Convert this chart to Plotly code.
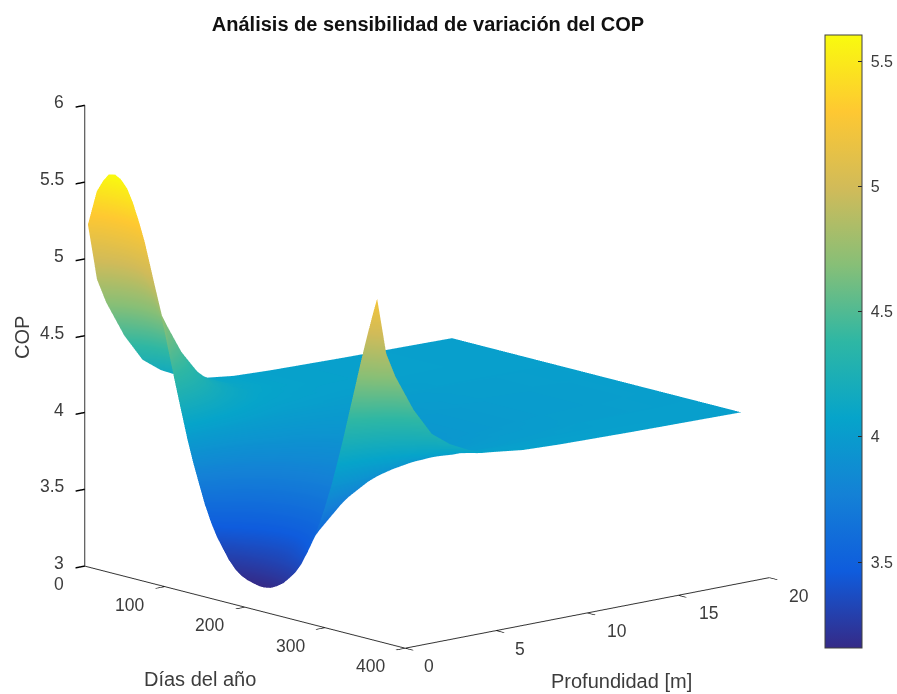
import plotly.graph_objects as go

days = [4, 15, 23, 30, 38, 45, 53, 60, 68, 75, 83, 90, 98, 105, 113, 120, 128, 135, 143, 150, 158, 165, 173, 180, 188,
        195, 203, 210, 218, 225, 233, 240, 248, 255, 263, 270, 278, 285, 293, 300, 308, 315, 323, 330, 338, 345, 353, 360, 365]
depths = [0, 0.5, 1, 1.5, 2, 3, 4, 5, 6, 8, 10, 14, 20]
cop_0 = [5.23,5.46,5.54,5.59,5.60,5.58,5.53,5.45,5.33,5.21,5.04,4.89,4.70,4.53,4.34,4.18,4.00,3.86,3.72,3.60,3.49,3.41,3.34,3.28,3.23,3.20,3.18,3.17,3.16,3.16,3.17,3.19,3.22,3.26,3.31,3.37,3.46,3.55,3.67,3.79,3.94,4.09,4.27,4.44,4.63,4.80,4.98,5.13,5.23]
cop_05 = [4.86,5.02,5.07,5.10,5.11,5.10,5.06,5.01,4.93,4.85,4.74,4.63,4.50,4.38,4.25,4.13,4.00,3.90,3.79,3.70,3.61,3.54,3.47,3.42,3.38,3.35,3.33,3.31,3.31,3.31,3.32,3.34,3.37,3.40,3.45,3.50,3.58,3.65,3.75,3.84,3.96,4.07,4.20,4.32,4.45,4.57,4.69,4.79,4.86]
cop_1 = [4.70,4.83,4.87,4.90,4.90,4.89,4.86,4.82,4.76,4.69,4.60,4.52,4.41,4.32,4.21,4.11,4.00,3.91,3.82,3.74,3.67,3.60,3.54,3.50,3.46,3.43,3.41,3.40,3.39,3.39,3.40,3.42,3.45,3.48,3.52,3.57,3.64,3.70,3.79,3.87,3.96,4.06,4.17,4.26,4.37,4.47,4.57,4.65,4.70]
cop_15 = [4.58,4.68,4.71,4.73,4.74,4.73,4.71,4.67,4.62,4.57,4.50,4.43,4.34,4.26,4.17,4.09,4.00,3.93,3.85,3.78,3.71,3.66,3.61,3.57,3.53,3.51,3.49,3.47,3.47,3.47,3.48,3.50,3.52,3.55,3.59,3.63,3.69,3.75,3.82,3.89,3.97,4.05,4.14,4.22,4.31,4.38,4.47,4.53,4.58]
cop_2 = [4.46,4.53,4.56,4.58,4.58,4.57,4.56,4.53,4.49,4.45,4.39,4.34,4.27,4.21,4.14,4.07,4.00,3.94,3.88,3.82,3.77,3.72,3.68,3.64,3.61,3.59,3.57,3.56,3.56,3.56,3.56,3.58,3.60,3.63,3.66,3.70,3.75,3.79,3.85,3.91,3.98,4.04,4.11,4.17,4.25,4.31,4.37,4.42,4.46]
cop_3 = [4.28,4.33,4.35,4.35,4.36,4.35,4.34,4.33,4.30,4.28,4.25,4.21,4.17,4.13,4.09,4.05,4.00,3.96,3.92,3.88,3.85,3.81,3.78,3.76,3.74,3.72,3.71,3.70,3.70,3.70,3.71,3.72,3.73,3.75,3.77,3.80,3.83,3.86,3.90,3.94,3.98,4.02,4.07,4.11,4.15,4.19,4.23,4.26,4.28]
cop_4 = [4.19,4.21,4.23,4.23,4.23,4.23,4.22,4.21,4.20,4.18,4.16,4.14,4.11,4.09,4.06,4.03,4.00,3.97,3.95,3.92,3.90,3.87,3.85,3.84,3.82,3.81,3.80,3.80,3.79,3.79,3.80,3.80,3.82,3.83,3.85,3.86,3.89,3.91,3.93,3.96,3.99,4.02,4.05,4.07,4.10,4.13,4.15,4.17,4.19]
cop_5 = [4.13,4.15,4.16,4.16,4.16,4.16,4.16,4.15,4.14,4.13,4.11,4.10,4.08,4.06,4.04,4.02,4.00,3.98,3.96,3.94,3.92,3.91,3.89,3.88,3.87,3.86,3.85,3.85,3.85,3.85,3.85,3.86,3.86,3.87,3.89,3.90,3.92,3.93,3.95,3.97,3.99,4.01,4.03,4.05,4.07,4.09,4.11,4.12,4.13]
cop_6 = [4.09,4.10,4.11,4.11,4.11,4.11,4.11,4.10,4.10,4.09,4.08,4.07,4.06,4.04,4.03,4.02,4.00,3.99,3.97,3.96,3.95,3.94,3.92,3.92,3.91,3.90,3.90,3.89,3.89,3.89,3.90,3.90,3.91,3.91,3.92,3.93,3.94,3.95,3.97,3.98,4.00,4.01,4.02,4.04,4.05,4.06,4.07,4.08,4.09]
cop_8 = [4.06,4.07,4.07,4.07,4.07,4.07,4.07,4.07,4.06,4.06,4.05,4.05,4.04,4.03,4.03,4.02,4.01,4.00,3.99,3.99,3.98,3.97,3.97,3.96,3.96,3.96,3.95,3.95,3.95,3.95,3.95,3.95,3.96,3.96,3.97,3.97,3.98,3.98,3.99,4.00,4.01,4.01,4.02,4.03,4.04,4.04,4.05,4.06,4.06]
cop_10 = [4.05,4.05,4.05,4.05,4.05,4.05,4.05,4.05,4.05,4.04,4.04,4.04,4.03,4.03,4.02,4.02,4.02,4.01,4.01,4.00,4.00,3.99,3.99,3.99,3.98,3.98,3.98,3.98,3.98,3.98,3.98,3.98,3.98,3.98,3.99,3.99,4.00,4.00,4.01,4.01,4.01,4.02,4.02,4.03,4.03,4.04,4.04,4.04,4.05]
cop_14 = [4.04,4.04,4.04,4.04,4.04,4.04,4.04,4.04,4.04,4.04,4.04,4.03,4.03,4.03,4.03,4.03,4.03,4.02,4.02,4.02,4.02,4.02,4.02,4.02,4.01,4.01,4.01,4.01,4.01,4.01,4.01,4.01,4.01,4.01,4.02,4.02,4.02,4.02,4.02,4.02,4.03,4.03,4.03,4.03,4.03,4.04,4.04,4.04,4.04]
cop_20 = [4.03,4.03,4.03,4.03,4.03,4.03,4.03,4.03,4.03,4.03,4.03,4.03,4.03,4.03,4.03,4.03,4.03,4.03,4.03,4.03,4.03,4.03,4.03,4.03,4.03,4.03,4.03,4.03,4.03,4.03,4.03,4.03,4.03,4.03,4.03,4.03,4.03,4.03,4.03,4.03,4.03,4.03,4.03,4.03,4.03,4.03,4.03,4.03,4.03]
cop = [cop_0, cop_05, cop_1, cop_15, cop_2, cop_3, cop_4, cop_5, cop_6, cop_8, cop_10, cop_14, cop_20]

x_ticks = [0, 100, 200, 300, 400]
y_ticks = [0, 5, 10, 15, 20]
z_ticks = [3, 3.5, 4, 4.5, 5, 5.5, 6]
bar_ticks = [3.5, 4, 4.5, 5, 5.5]
bar_labels = ["3.5", "4", "4.5", "5", "5.5"]

parula = [[0, "#352a87"], [0.125, "#0f5cdd"], [0.25, "#1481d6"], [0.375, "#06a4ca"], [0.5, "#2eb7a4"],
          [0.625, "#87bf77"], [0.75, "#d1bb59"], [0.875, "#fec832"], [1, "#f9fb0e"]]

FONT = "Liberation Sans, Arial, sans-serif"
TXT = "#3c3c3c"

fig = go.Figure(go.Surface(
    x=days, y=depths, z=cop, colorscale=parula, cmin=3.157, cmax=5.604,
    lighting=dict(ambient=1, diffuse=0, specular=0, roughness=1, fresnel=0),
    colorbar=dict(x=825/897, xanchor="left", xpad=0, ypad=0, y=1-35/694, yanchor="top",
                  lenmode="pixels", len=613, thicknessmode="pixels", thickness=37,
                  outlinecolor="#404040", outlinewidth=1, tickvals=bar_ticks,
                  ticktext=["\u00a0" + s for s in bar_labels], ticks="inside", ticklen=4,
                  tickcolor="#262626", tickfont=dict(family=FONT, size=16, color=TXT)),
))

def axis(vals, rng):
    return dict(range=rng, tickvals=vals, showticklabels=False, showgrid=False, showbackground=False,
                zeroline=False, showspikes=False, showline=True, linecolor="#333333", linewidth=2,
                ticks="outside", ticklen=12, tickcolor="#000000", tickwidth=3, title=dict(text=""))

def tick_label(x, y, z, text, **kw):
    return dict(x=x, y=y, z=z, text=str(text), showarrow=False, font=dict(family=FONT, size=17.5, color=TXT), **kw)

scene_labels = []
for v in x_ticks:
    scene_labels.append(tick_label(v, 0, 3, v, xshift=-26 if v == 0 else -35, yshift=-18))
for v in y_ticks:
    scene_labels.append(tick_label(400, v, 3, v, xshift=24 if v < 10 else 30, yshift=-18))
for v in z_ticks:
    scene_labels.append(tick_label(0, 0, v, v, xanchor="right", xshift=-19, yshift=3))

fig.update_layout(
    width=897, height=694, margin=dict(l=0, r=0, t=0, b=0), paper_bgcolor="white",
    title=dict(text="<b>Análisis de sensibilidad de variación del COP</b>", x=428/897, xanchor="center",
               y=1-24/694, yanchor="middle", font=dict(family=FONT, size=20, color="#111111")),
    scene=dict(
        domain=dict(x=[0, 855/897], y=[1-683/694, 1]),
        xaxis=axis(x_ticks, [0, 400]), yaxis=axis(y_ticks, [0, 20]), zaxis=axis(z_ticks, [3, 6]),
        aspectmode="manual", aspectratio=dict(x=1.43, y=1.413, z=1.384),
        camera=dict(eye=dict(x=0.736*1.127, y=-0.640*1.127, z=0.223*1.127), center=dict(x=0, y=0, z=0),
                    up=dict(x=0, y=0, z=1), projection=dict(type="orthographic")),
        annotations=scene_labels,
    ),
    annotations=[
        dict(text="Días del año", x=200/897, y=1-679/694, xref="paper", yref="paper", showarrow=False,
             xanchor="center", yanchor="middle", font=dict(family=FONT, size=20, color=TXT)),
        dict(text="Profundidad [m]", x=622/897, y=1-681/694, xref="paper", yref="paper", showarrow=False,
             xanchor="center", yanchor="middle", font=dict(family=FONT, size=20, color=TXT)),
        dict(text="COP", x=22/897, y=1-337/694, xref="paper", yref="paper", showarrow=False, textangle=-90,
             xanchor="center", yanchor="middle", font=dict(family=FONT, size=20, color=TXT)),
    ],
)
fig.write_html("out.html", config=dict(displayModeBar=False),
               post_script="document.body.style.margin='0px';document.documentElement.style.overflow='hidden';")
